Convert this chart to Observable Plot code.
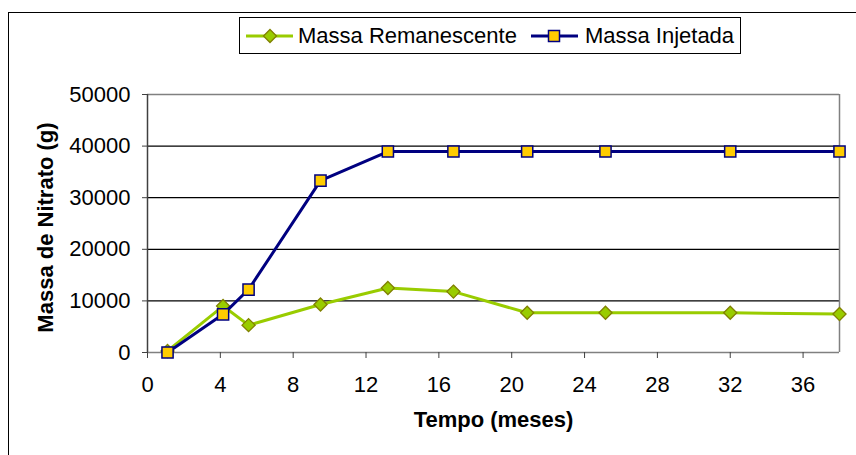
<!DOCTYPE html>
<html>
<head>
<meta charset="utf-8">
<script src="https://cdn.jsdelivr.net/npm/d3@7"></script>
<script src="https://cdn.jsdelivr.net/npm/@observablehq/plot@0.6"></script>
<style>
  html, body { margin: 0; padding: 0; background: #fff; }
  #wrap { position: relative; width: 856px; height: 455px; overflow: hidden; font-family: "Liberation Sans", Arial, sans-serif; }
  #frame { position: absolute; left: 8px; top: 12px; width: 900px; height: 500px; border-left: 1px solid #000; border-top: 1px solid #000; pointer-events: none; }
  #legend { position: absolute; left: 239px; top: 17px; width: 502px; height: 37px; border: 1px solid #000; background: #fff;
            display: flex; align-items: center; box-sizing: border-box; padding-left: 6px; font-size: 22px; color: #000; white-space: nowrap; }
  #legend .item { display: flex; align-items: center; }
  #legend svg { display: block; }
</style>
</head>
<body>
<div id="wrap">
  <div id="chart"></div>
  <div id="frame"></div>
  <div id="legend"></div>
</div>
<script>
// ---- data ----
const months = [1.1, 4.15, 5.55, 9.5, 13.2, 16.8, 20.85, 25.15, 32.0, 38.0];
const remanescente = [300, 9000, 5300, 9300, 12500, 11800, 7700, 7700, 7700, 7450];
const injetada = [0, 7400, 12200, 33300, 38950, 38950, 38950, 38950, 38950, 38950];
const seriesNames = ["Massa Remanescente", "Massa Injetada"];
const xTicks = [0, 4, 8, 12, 16, 20, 24, 28, 32, 36];
const yTicks = [0, 10000, 20000, 30000, 40000, 50000];
const xTitle = "Tempo (meses)";
const yTitle = "Massa de Nitrato (g)";

const green = "#99cc00", olive = "#808000", navy = "#000080", gold = "#ffcc00";

const remData = months.map((m, i) => ({m, v: remanescente[i]}));
const injData = months.map((m, i) => ({m, v: injetada[i]}));

const chart = Plot.plot({
  width: 856,
  height: 455,
  marginLeft: 147,
  marginRight: 17,
  marginTop: 94,
  marginBottom: 103,
  style: {fontFamily: "'Liberation Sans', Arial, sans-serif", fontSize: "22px", color: "#000", background: "#fff"},
  x: {domain: [0, 38]},
  y: {domain: [0, 50000]},
  marks: [
    Plot.ruleY(yTicks.filter(d => d > 0 && d < 50000), {stroke: "#000", strokeWidth: 1.2}),
    Plot.ruleY([50000], {stroke: "#808080", strokeWidth: 1.5}),
    Plot.ruleX([38], {stroke: "#808080", strokeWidth: 1.5}),
    Plot.ruleY([0], {stroke: "#808080", strokeWidth: 1.5}),
    Plot.ruleX([0], {stroke: "#404040", strokeWidth: 1.5}),
    Plot.axisX({ticks: xTicks, tickFormat: d => String(d), tickSize: 6, tickPadding: 18, fontSize: 22, label: null, stroke: "#404040"}),
    Plot.axisY({ticks: yTicks, tickFormat: d => String(d), tickSize: 5, tickPadding: 12, fontSize: 22, label: null, stroke: "#404040"}),
    Plot.text([xTitle], {text: d => d, frameAnchor: "bottom", dy: 74, fontSize: 22, fontWeight: "bold", textAnchor: "middle"}),
    Plot.text([yTitle], {text: d => d, frameAnchor: "left", dx: -102, dy: 4, rotate: -90, fontSize: 22, fontWeight: "bold", textAnchor: "middle"}),
    Plot.line(remData, {x: "m", y: "v", stroke: green, strokeWidth: 3}),
    Plot.dot(remData, {x: "m", y: "v", symbol: "diamond2", r: 5.9, fill: green, stroke: olive, strokeWidth: 1.3}),
    Plot.line(injData, {x: "m", y: "v", stroke: navy, strokeWidth: 3}),
    Plot.dot(injData, {x: "m", y: "v", symbol: "square", r: 6.3, fill: gold, stroke: navy, strokeWidth: 1.5})
  ]
});
document.getElementById("chart").appendChild(chart);

// ---- legend ----
const legend = d3.select("#legend");
function addItem(name, kind, gapAfterSym, marginLeft) {
  const it = legend.append("div").attr("class", "item").style("margin-left", marginLeft + "px");
  const s = it.append("svg").attr("width", 47).attr("height", 20);
  s.append("line").attr("x1", 0).attr("x2", 47).attr("y1", 10).attr("y2", 10)
    .attr("stroke", kind === "diamond" ? green : navy).attr("stroke-width", 3);
  if (kind === "diamond") {
    s.append("path").attr("d", "M24,3.5L30.5,10L24,16.5L17.5,10Z").attr("fill", green).attr("stroke", olive).attr("stroke-width", 1.3);
  } else {
    s.append("rect").attr("x", 17.5).attr("y", 4.5).attr("width", 11).attr("height", 11).attr("fill", gold).attr("stroke", navy).attr("stroke-width", 1.5);
  }
  it.append("span").style("margin-left", gapAfterSym + "px").text(name);
}
addItem(seriesNames[0], "diamond", 5, 0);
addItem(seriesNames[1], "square", 7, 14);
</script>
</body>
</html>
